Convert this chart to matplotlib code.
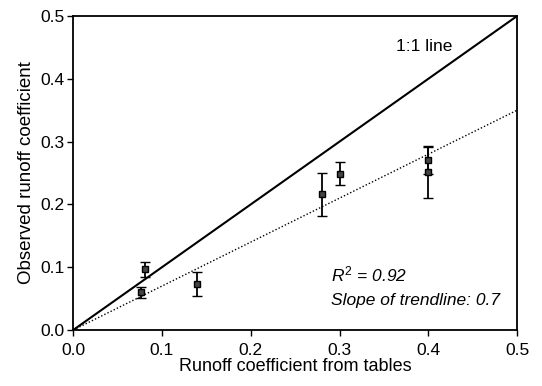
import numpy as np
import matplotlib
matplotlib.use('Agg')
import matplotlib.pyplot as plt

plt.rcParams['font.family'] = ['Liberation Sans', 'DejaVu Sans']
plt.rcParams['mathtext.fontset'] = 'custom'
plt.rcParams['mathtext.it'] = 'Liberation Sans:italic'
plt.rcParams['mathtext.rm'] = 'Liberation Sans'

# runoff coefficients: from tables (x) vs observed (y), with error bars
table_coef = [0.076, 0.081, 0.14, 0.28, 0.30, 0.40, 0.40]
observed_coef = [0.060, 0.097, 0.073, 0.216, 0.249, 0.271, 0.251]
observed_err = [0.009, 0.012, 0.019, 0.034, 0.018, 0.022, 0.040]

trend_slope = 0.7
r_squared = 0.92

fig = plt.figure(figsize=(5.42, 3.86), dpi=100)
ax = fig.add_axes([0.135, 0.145, 0.819, 0.8135])

# 1:1 line and trendline through origin
xline = np.array([0.0, 0.5])
ax.plot(xline, xline, color='black', lw=1.5)
ax.plot(xline, trend_slope * xline, color='black', lw=1.0, ls=(0, (1, 1.5)))

ax.errorbar(table_coef, observed_coef, yerr=observed_err, fmt='s',
            ms=4.5, mfc='#444444', mec='black', mew=1.0,
            ecolor='black', elinewidth=1.3, capsize=3.5, capthick=1.3)

ax.set_xlim(0, 0.5)
ax.set_ylim(0, 0.5)
ax.set_xticks(np.arange(0, 0.51, 0.1))
ax.set_yticks(np.arange(0, 0.51, 0.1))
ax.xaxis.set_major_formatter(plt.FormatStrFormatter('%.1f'))
ax.yaxis.set_major_formatter(plt.FormatStrFormatter('%.1f'))
ax.tick_params(direction='out', length=4, width=1, labelsize=12.5)
ax.tick_params(axis='x', pad=5)
ax.tick_params(axis='y', pad=2)
for s in ax.spines.values():
    s.set_linewidth(1.3)

ax.set_xlabel('Runoff coefficient from tables', fontsize=13, labelpad=0)
ax.set_ylabel('Observed runoff coefficient', fontsize=13.5, labelpad=4)

ax.text(0.364, 0.452, '1:1 line', fontsize=12.5, va='center', ha='left')
ax.text(0.290, 0.078, '$\\mathit{R}^{2}$ = %.2f' % r_squared, fontsize=12.5,
        style='italic', ha='left', va='baseline')
ax.text(0.290, 0.040, 'Slope of trendline: %.1f' % trend_slope, fontsize=12.5,
        style='italic', ha='left', va='baseline')

plt.savefig('out.png', dpi=100)
